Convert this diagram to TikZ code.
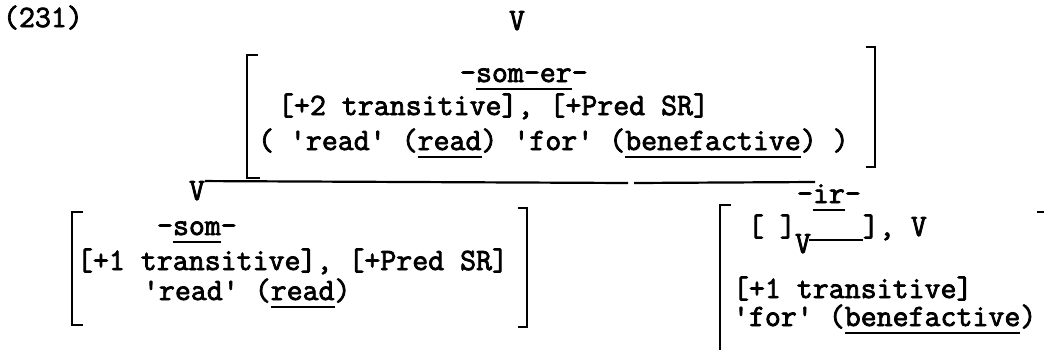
\documentclass[tikz,border=0pt]{standalone}
\usepackage{fontspec}
\newfontfamily\tw{Latin Modern Mono}[FakeBold=2.5,Ligatures=TeXOff]
\newcommand\tul[1]{\setbox0\hbox{#1}\rlap{\vrule width\wd0 height -3.1pt depth 4.0pt}\box0}
\begin{document}
\begin{tikzpicture}[x=0.5pt,y=-0.5pt,
  txt/.style={anchor=base west,inner sep=0pt,outer sep=0pt,font=\tw\fontsize{15.5}{18}\selectfont},
  brk/.style={line width=1.4pt,line join=miter,line cap=butt},
  tree/.style={line width=1.1pt},
  slot/.style={line width=0.9pt}]
\useasboundingbox (0,0) rectangle (1044,349);
% label and top V
\node[txt] (num) at (3,27) {(231)};
\node[txt,anchor=base] (Vtop) at (517,30) {V};
% top feature bracket
\node[txt] (t1) at (460,82) {-\tul{som-er}-};
\node[txt] (t2) at (278,115) {[+2 transitive], [+Pred SR]};
\node[txt] (t3) at (258,150) {( 'read' (\tul{read}) 'for' (\tul{benefactive}) )};
\draw[brk] (258,55) -- (247,55) -- (247,178) -- (260,178);
\draw[brk] (866,47) -- (875,47) -- (875,167) -- (866,167);
% tree line
\node[txt] (Vl) at (189,200) {V};
\node[txt] (ir) at (797,203) {-\tul{ir}-};
\coordinate (gapA) at (628,183);
\coordinate (gapB) at (634,183);
\coordinate (lineEnd) at (815,182);
\draw[tree] (Vl.north east) -- (gapA);
\draw[tree] (gapB) -- (lineEnd);
% left daughter
\node[txt] (l1) at (157,235) {-\tul{som}-};
\node[txt] (l2) at (77,270) {[+1 transitive], [+Pred SR]};
\node[txt] (l3) at (143,300) {'read' (\tul{read})};
\draw[brk] (83,212) -- (72,212) -- (72,325) -- (83,325);
\draw[brk] (518,208) -- (527,208) -- (527,327) -- (518,327);
% right daughter
\node[txt] (r0) at (748,236) {[ ]};
\node[txt] (rv) at (795,253) {V};
\node[txt] (r1) at (863,236) {], V};
\coordinate (slotA) at (809,240);
\draw[slot] (slotA) -- (r1.base west |- slotA);
\node[txt] (r2) at (733,298) {[+1 transitive]};
\node[txt] (r3) at (733,326) {'for' (\tul{benefactive})};
\draw[brk] (731,205) -- (720,205) -- (720,352);
\draw[brk] (1037,212) -- (1046,212);
\end{tikzpicture}
\end{document}
